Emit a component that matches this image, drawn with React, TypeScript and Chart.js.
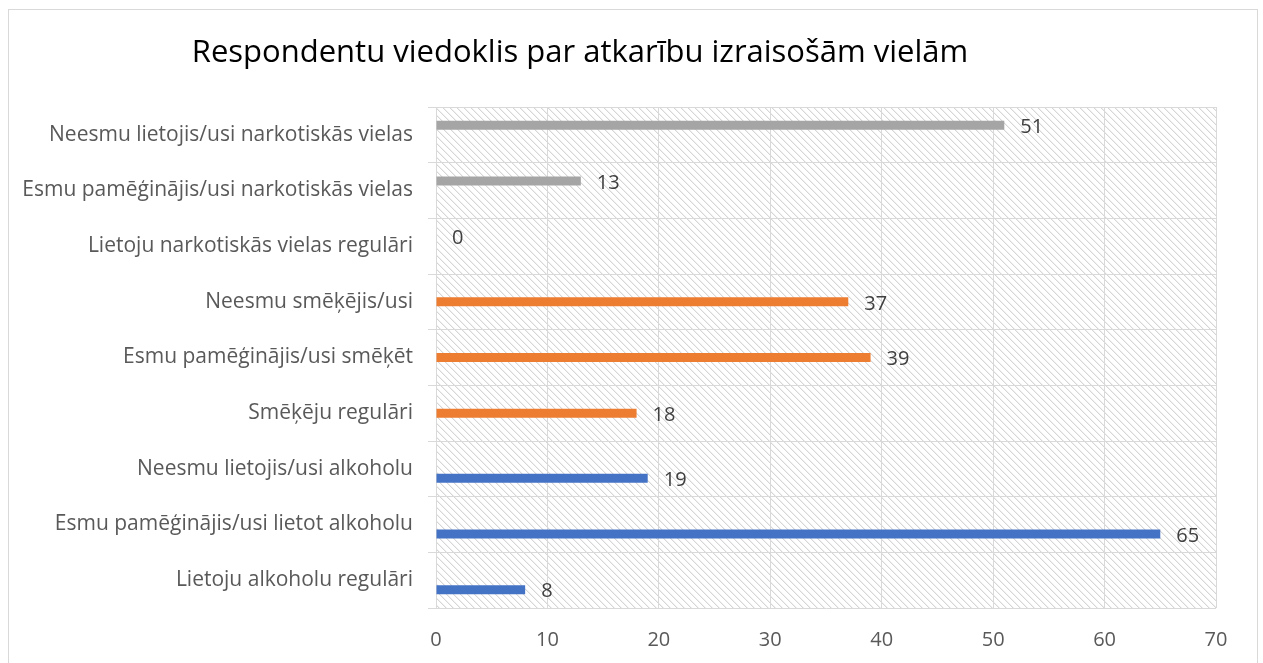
import React, { useEffect, useRef } from "react";
import { Chart, registerables } from "chart.js";

Chart.register(...registerables);

const TITLE = "Respondentu viedoklis par atkarību izraisošām vielām";

const categories = [
  "Neesmu lietojis/usi narkotiskās vielas",
  "Esmu pamēģinājis/usi narkotiskās vielas",
  "Lietoju narkotiskās vielas regulāri",
  "Neesmu smēķējis/usi",
  "Esmu pamēģinājis/usi smēķēt",
  "Smēķēju regulāri",
  "Neesmu lietojis/usi alkoholu",
  "Esmu pamēģinājis/usi lietot alkoholu",
  "Lietoju alkoholu regulāri",
];

const drugsValues = [51, 13, 0, null, null, null, null, null, null];
const smokingValues = [null, null, null, 37, 39, 18, null, null, null];
const alcoholValues = [null, null, null, null, null, null, 19, 65, 8];

const xTicks = [0, 10, 20, 30, 40, 50, 60, 70];

const FONT = "'Open Sans', Lato, sans-serif";
const W = 1248;
const H = 653;

function makePattern(): CanvasPattern | string {
  const c = document.createElement("canvas");
  const s = 7;
  c.width = s;
  c.height = s;
  const ctx = c.getContext("2d");
  if (!ctx) return "#ffffff";
  ctx.fillStyle = "#ffffff";
  ctx.fillRect(0, 0, s, s);
  for (let i = 0; i < s; i++) {
    ctx.fillStyle = "#d6d6d6";
    ctx.fillRect(i, i, 1, 1);
    ctx.fillStyle = "#f0f0f0";
    ctx.fillRect((i + 1) % s, i, 1, 1);
  }
  const p = ctx.createPattern(c, "repeat");
  return p || "#ffffff";
}

export default function App() {
  const ref = useRef<HTMLCanvasElement | null>(null);

  useEffect(() => {
    if (!ref.current) return;
    const pattern = makePattern();

    const bgPlugin = {
      id: "bgPattern",
      beforeDraw(chart: any) {
        const { ctx, chartArea } = chart;
        ctx.save();
        ctx.fillStyle = "#ffffff";
        ctx.fillRect(0, 0, chart.width, chart.height);
        ctx.fillStyle = pattern;
        ctx.fillRect(
          chartArea.left,
          chartArea.top,
          chartArea.right - chartArea.left,
          chartArea.bottom - chartArea.top
        );
        ctx.restore();
      },
    };

    const titlePlugin = {
      id: "customTitle",
      afterDraw(chart: any) {
        const ctx = chart.ctx;
        ctx.save();
        ctx.font = `31px ${FONT}`;
        ctx.fillStyle = "#000000";
        ctx.textAlign = "center";
        ctx.textBaseline = "alphabetic";
        ctx.fillText(TITLE, 571, 52);
        ctx.restore();
      },
    };

    const labelPlugin = {
      id: "valueLabels",
      afterDatasetsDraw(chart: any) {
        const ctx = chart.ctx;
        ctx.save();
        ctx.font = `20px ${FONT}`;
        ctx.fillStyle = "#404040";
        ctx.textAlign = "left";
        ctx.textBaseline = "middle";
        chart.data.datasets.forEach((ds: any, di: number) => {
          const meta = chart.getDatasetMeta(di);
          meta.data.forEach((el: any, i: number) => {
            const v = ds.data[i];
            if (v === null || v === undefined) return;
            ctx.fillText(String(v), el.x + 16, el.y + 2);
          });
        });
        ctx.restore();
      },
    };

    const chart = new Chart(ref.current, {
      type: "bar",
      data: {
        labels: categories,
        datasets: [
          {
            label: "Narkotiskās vielas",
            data: drugsValues,
            backgroundColor: "#a5a5a5",
            categoryPercentage: 0.51,
            barPercentage: 0.95,
          },
          {
            label: "Smēķēšana",
            data: smokingValues,
            backgroundColor: "#ed7d31",
            categoryPercentage: 0.51,
            barPercentage: 0.95,
          },
          {
            label: "Alkohols",
            data: alcoholValues,
            backgroundColor: "#4472c4",
            categoryPercentage: 0.51,
            barPercentage: 0.95,
          },
        ],
      },
      options: {
        indexAxis: "y",
        animation: false,
        responsive: false,
        devicePixelRatio: 1,
        layout: { padding: { left: 0, right: 41, top: 97, bottom: 0 } },
        plugins: {
          legend: { display: false },
          title: { display: false },
          tooltip: { enabled: false },
        },
        scales: {
          x: {
            min: 0,
            max: 70,
            afterBuildTicks(scale: any) {
              scale.ticks = xTicks.map((v) => ({ value: v }));
            },
            afterFit(scale: any) {
              scale.height = 55;
            },
            grid: {
              color: "#d9d9d9",
              lineWidth: 1,
              drawTicks: false,
            },
            border: { display: false },
            ticks: {
              padding: 20,
              color: "#595959",
              font: { family: FONT, size: 20 },
            },
          },
          y: {
            afterFit(scale: any) {
              scale.width = 427;
            },
            grid: {
              color: "#d9d9d9",
              lineWidth: 1,
              drawTicks: true,
              tickLength: 8,
            },
            border: { display: true, color: "#d9d9d9", width: 1 },
            ticks: {
              padding: 15,
              color: "#595959",
              font: { family: FONT, size: 21 },
            },
          },
        },
      },
      plugins: [bgPlugin, labelPlugin, titlePlugin],
    } as any);

    return () => chart.destroy();
  }, []);

  return (
    <div
      style={{
        position: "absolute",
        left: 8,
        top: 9,
        width: W,
        height: 654,
        borderLeft: "1px solid #d9d9d9",
        borderTop: "1px solid #d9d9d9",
        borderRight: "1px solid #d9d9d9",
        overflow: "hidden",
        background: "#ffffff",
      }}
    >
      <canvas ref={ref} width={W} height={H} style={{ display: "block" }} />
    </div>
  );
}
